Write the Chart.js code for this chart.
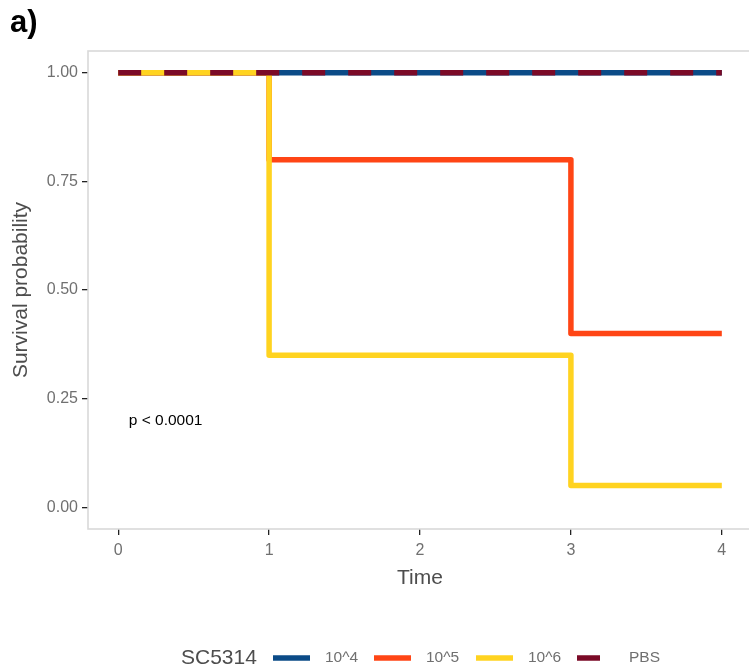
<!DOCTYPE html>
<html lang="en">
<head>
    <meta charset="UTF-8">
    <title>Survival curves</title>
    <style>
        html, body {
            margin: 0;
            padding: 0;
            background: #fff;
            overflow: hidden;
        }
        canvas {
            display: block;
        }
    </style>
</head>
<body>
    <canvas id="km-chart" width="755" height="672"></canvas>
    <script src="https://cdn.jsdelivr.net/npm/chart.js"></script>

    <script>
        // DATA

        const groupTitle = "SC5314"
        const groupNames = ["10^4", "10^5", "10^6", "PBS"]
        const groupColors = ["#0B4B87", "#FF4515", "#FFD320", "#7B0A27"]

        // time points where the curves step
        const timePoints = [0, 1, 3, 4]
        const surv1e4 = [1, 1, 1, 1]
        const surv1e5 = [1, 0.8, 0.4, 0.4]
        const surv1e6 = [1, 0.35, 0.05, 0.05]
        const survPBS = [1, 1, 1, 1]

        const xTicks = [0, 1, 2, 3, 4]
        const yTicks = [0, 0.25, 0.5, 0.75, 1]

        const pValueText = "p < 0.0001"
        const pValuePos = { x: 0.07, y: 0.2 }
    </script>

    <script>
        const FONT = "'Liberation Sans', Arial, Helvetica, sans-serif"

        const toPoints = (ys) => timePoints.map((t, i) => ({ x: t, y: ys[i] }))

        const makeDataset = (i, ys, order, dashed) => {
            return {
                label: groupNames[i],
                data: toPoints(ys),
                borderColor: groupColors[i],
                backgroundColor: groupColors[i],
                borderWidth: 5.5,
                borderDash: dashed ? [23, 23] : [],
                borderCapStyle: 'butt',
                borderJoinStyle: 'round',
                stepped: true,
                pointRadius: 0,
                fill: false,
                order: order, // lower order is drawn on top
            }
        }

        // panel border, panel label, p-value and the bottom legend
        const extrasPlugin = {
            id: 'extras',
            beforeDatasetsDraw(chart) {
                const { ctx, chartArea: a } = chart
                ctx.save()
                ctx.strokeStyle = '#D9D9D9'
                ctx.lineWidth = 1.6
                ctx.strokeRect(a.left, a.top, a.right - a.left, a.bottom - a.top)
                ctx.restore()
            },
            afterDraw(chart) {
                const { ctx, scales } = chart
                ctx.save()

                // panel tag
                ctx.fillStyle = '#000'
                ctx.font = "bold 31px " + FONT
                ctx.textBaseline = 'middle'
                ctx.textAlign = 'left'
                ctx.fillText("a)", 10, 23)

                // p-value
                ctx.font = "15.5px " + FONT
                ctx.fillText(pValueText, scales.x.getPixelForValue(pValuePos.x), scales.y.getPixelForValue(pValuePos.y))

                // legend
                const legendY = 658
                ctx.fillStyle = '#4D4D4D'
                ctx.font = "21px " + FONT
                ctx.fillText(groupTitle, 181, legendY)

                const keyStarts = [273, 374, 476, 577]
                const keyWidth = 37
                ctx.font = "15.5px " + FONT
                groupNames.forEach((name, i) => {
                    const x0 = keyStarts[i]
                    ctx.beginPath()
                    ctx.strokeStyle = groupColors[i]
                    ctx.lineWidth = 5.5
                    ctx.lineCap = 'butt'
                    ctx.setLineDash(name === "PBS" ? [23, 23] : [])
                    ctx.moveTo(x0, legendY)
                    ctx.lineTo(x0 + keyWidth, legendY)
                    ctx.stroke()
                    ctx.setLineDash([])
                    ctx.fillStyle = '#707070'
                    ctx.fillText(name, x0 + keyWidth + 15, legendY)
                })

                ctx.restore()
            }
        }

        const config = {
            type: 'line',
            data: {
                datasets: [
                    makeDataset(0, surv1e4, 3, false),
                    makeDataset(1, surv1e5, 2, false),
                    makeDataset(2, surv1e6, 1, false),
                    makeDataset(3, survPBS, 0, true),
                ]
            },
            options: {
                responsive: false,
                animation: false,
                layout: {
                    padding: { left: 0, top: 51, right: 3, bottom: 73 }
                },
                plugins: {
                    legend: { display: false },
                    tooltip: { enabled: false },
                },
                scales: {
                    x: {
                        type: 'linear',
                        min: -0.2,
                        max: 4.2,
                        afterBuildTicks: (s) => { s.ticks = xTicks.map(v => ({ value: v })) },
                        afterFit: (s) => { s.height = 70 },
                        grid: {
                            drawOnChartArea: false,
                            drawTicks: true,
                            tickLength: 6,
                            color: '#222',
                            lineWidth: 1.3,
                        },
                        border: { display: false },
                        ticks: {
                            autoSkip: false,
                            maxRotation: 0,
                            padding: 6,
                            color: '#707070',
                            font: { family: FONT, size: 16 },
                            callback: (v) => String(v),
                        },
                        title: {
                            display: true,
                            text: 'Time',
                            color: '#4D4D4D',
                            font: { family: FONT, size: 21 },
                            padding: { top: 0, bottom: 8 },
                        }
                    },
                    y: {
                        type: 'linear',
                        min: -0.05,
                        max: 1.05,
                        afterBuildTicks: (s) => { s.ticks = yTicks.map(v => ({ value: v })) },
                        afterFit: (s) => { s.width = 88 },
                        grid: {
                            drawOnChartArea: false,
                            drawTicks: true,
                            tickLength: 6,
                            color: '#222',
                            lineWidth: 1.3,
                        },
                        border: { display: false },
                        ticks: {
                            autoSkip: false,
                            padding: 4,
                            color: '#707070',
                            font: { family: FONT, size: 16 },
                            callback: (v) => Number(v).toFixed(2),
                        },
                        title: {
                            display: true,
                            text: 'Survival probability',
                            color: '#4D4D4D',
                            font: { family: FONT, size: 21 },
                            padding: { top: 9, bottom: 0 },
                        }
                    }
                }
            },
            plugins: [extrasPlugin]
        }

        new Chart(document.getElementById('km-chart'), config)
    </script>
</body>
</html>
